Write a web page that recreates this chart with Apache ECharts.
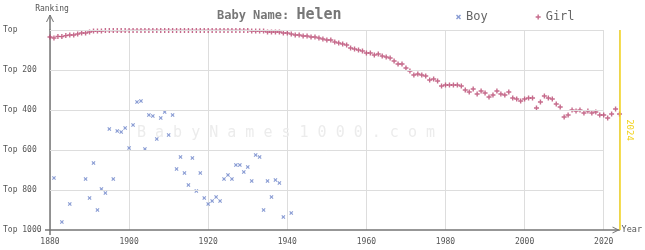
<!DOCTYPE html>
<html><head><meta charset="utf-8">
<script src="https://cdn.jsdelivr.net/npm/echarts@6/dist/echarts.min.js"></script>
<style>html,body{margin:0;padding:0;background:#fff}#c{width:645px;height:250px}</style>
</head><body><div id="c"></div>
<script>
// ---- data ----
const rankTicks = [0, 200, 400, 600, 800, 1000];
const rankLabels = ['Top', 'Top 200', 'Top 400', 'Top 600', 'Top 800', 'Top 1000'];
const gridEndYear = 2020;
const currentYear = 2024;
const girlFirstYear = 1880;
const girlRanks = [
  35,40,32,33,28,25,25,20,15,15,10,5,5,5,
  3,3,3,3,3,3,
  2,2,2,2,2,2,2,2,2,2,2,2,2,2,2,2,2,2,2,2,2,2,2,2,2,2,2,2,2,2,2,
  5,5,5,5,10,10,10,10,15,15,
  20,25,25,30,30,35,35,40,45,
  50,50,60,65,70,75,90,95,100,105,115,115,125,120,130,135,140,155,170,170,190,205,225,220,
  225,230,250,245,255,280,275,275,275,275,
  280,300,310,295,320,305,315,335,325,305,
  320,325,310,340,345,355,345,340,340,390,
  360,330,340,345,370,385,435,425,400,405,
  400,415,405,415,410,425,425,440,420,395,420
];
const boyYears = [1881,1883,1885,1889,1890,1891,1892,1893,1894,1895,1896,1897,1898,1899,
  1900,1901,1902,1903,1904,1905,1906,1907,1908,1909,1910,1911,1912,1913,1914,1915,1916,1917,1918,1919,
  1920,1921,1922,1923,1924,1925,1926,1927,1928,1929,1930,1931,1932,1933,1934,1935,1936,1937,1938,1939,1941];
const boyRanks = [740,960,870,745,840,665,900,795,815,495,745,505,510,490,
  590,475,360,355,595,425,430,545,440,410,525,425,695,635,715,775,640,805,715,840,
  870,855,835,855,745,725,745,675,675,710,685,755,625,635,900,755,835,750,765,935,915];

// ---- build ----
const girlData = girlRanks.map((r, i) => [girlFirstYear + i, r]);
const boyData = boyYears.map((y, i) => [y, boyRanks[i]]);
const MONO = 'DejaVu Sans Mono';
const PLUS = 'path://M1.8,0H3.2V1.8H5V3.2H3.2V5H1.8V3.2H0V1.8H1.8Z';
const CROSS = 'path://M0,1L1,0L2.5,1.5L4,0L5,1L3.5,2.5L5,4L4,5L2.5,3.5L1,5L0,4L1.5,2.5Z';
const CHEV = 'path://M0,7L3.5,0L7,7L6,7L3.5,2L1,7Z';
const AXIS_C = '#767676';
const GRID_C = '#dddddd';
const YELLOW = '#f2d21a';

const chart = echarts.init(document.getElementById('c'), null, {renderer: 'canvas'});
const hGrid = rankTicks.slice(0, -1).map(v => [{coord: [girlFirstYear, v]}, {coord: [gridEndYear, v]}]);

chart.setOption({
  animation: false,
  backgroundColor: '#fff',
  title: {
    text: '{a|Baby Name: }{b|Helen}',
    left: 217, top: 8, padding: 0,
    textStyle: {rich: {
      a: {fontFamily: MONO, fontSize: 12, color: '#777'},
      b: {fontFamily: MONO, fontSize: 15, color: '#777'}
    }}
  },
  legend: {
    data: ['Boy', 'Girl'],
    left: 456, top: 11, padding: 0,
    itemWidth: 5, itemHeight: 5, itemGap: 48,
    textStyle: {fontFamily: MONO, fontSize: 12, color: '#666'}
  },
  grid: {left: 47, top: 30, width: 576, height: 200},
  xAxis: {
    type: 'value', min: 1880, max: currentYear, interval: 20,
    axisLine: {show: true, onZero: false, symbol: ['none', CHEV], symbolSize: [7, 7], symbolOffset: [0, -3.5],
      lineStyle: {color: AXIS_C, width: 1.5}},
    axisTick: {show: false},
    axisLabel: {formatter: v => (v % 20 === 0 ? String(v) : ''), margin: 8, color: '#555',
      fontFamily: MONO, fontSize: 8, showMaxLabel: false},
    splitLine: {show: true, lineStyle: {color: GRID_C, width: 1}},
    name: 'Year', nameLocation: 'end', nameGap: 2,
    nameTextStyle: {fontFamily: MONO, fontSize: 8.5, color: '#555', align: 'left', verticalAlign: 'middle'}
  },
  yAxis: {
    type: 'value', inverse: true, min: 0, max: 1000, interval: 200,
    axisLine: {show: true, onZero: false, lineStyle: {color: AXIS_C, width: 1.5}},
    axisTick: {show: false},
    splitLine: {show: false},
    axisLabel: {formatter: v => rankLabels[rankTicks.indexOf(v)] || '', align: 'left', margin: 47,
      color: '#555', fontFamily: MONO, fontSize: 8}
  },
  series: [
    {
      name: 'grid', type: 'scatter', data: [], silent: true, z: 0,
      markLine: {silent: true, symbol: 'none', animation: false, label: {show: false},
        lineStyle: {color: GRID_C, width: 1, type: 'solid'}, data: hGrid}
    },
    {
      name: 'Boy', type: 'scatter', data: boyData, symbol: CROSS, symbolSize: 4,
      itemStyle: {color: '#6a82c8'}, z: 3
    },
    {
      name: 'Girl', type: 'scatter', data: girlData, symbol: PLUS, symbolSize: 5,
      itemStyle: {color: '#b8466f'}, z: 4,
      markLine: {silent: true, symbol: 'none', animation: false,
        lineStyle: {color: YELLOW, width: 1.5, type: 'solid'},
        label: {show: true, formatter: String(currentYear), position: 'insideMiddleTop',
          color: YELLOW, fontFamily: MONO, fontSize: 9},
        data: [{xAxis: currentYear}]}
    }
  ]
});

// axis extensions, arrow and name for the ranking axis
const o = chart.convertToPixel({gridIndex: 0}, [1880, 1000]);
const t = chart.convertToPixel({gridIndex: 0}, [1880, 0]);
chart.setOption({
  graphic: [
    {type: 'text', left: 137, top: 126, z: 0, silent: true,
      style: {text: 'B a b y N a m e s 1 0 0 0 . c o m', fontFamily: MONO, fontSize: 15, fill: '#ececec'}},
    {type: 'line', shape: {x1: t[0], y1: t[1], x2: t[0], y2: t[1] - 15}, style: {stroke: AXIS_C, lineWidth: 1.5}, silent: true},
    {type: 'polyline', shape: {points: [[t[0] - 3.5, t[1] - 8], [t[0], t[1] - 15], [t[0] + 3.5, t[1] - 8]]}, style: {stroke: AXIS_C, lineWidth: 1, fill: null}, silent: true},
    {type: 'line', shape: {x1: o[0] - 5, y1: o[1], x2: o[0], y2: o[1]}, style: {stroke: AXIS_C, lineWidth: 1.5}, silent: true},
    {type: 'line', shape: {x1: o[0], y1: o[1], x2: o[0], y2: o[1] + 5}, style: {stroke: AXIS_C, lineWidth: 1.5}, silent: true},
    {type: 'text', x: t[0] + 2, y: t[1] - 21, silent: true,
      style: {text: 'Ranking', fontFamily: MONO, fontSize: 8, fill: '#555', align: 'center', verticalAlign: 'middle'}}
  ]
});
</script></body></html>
